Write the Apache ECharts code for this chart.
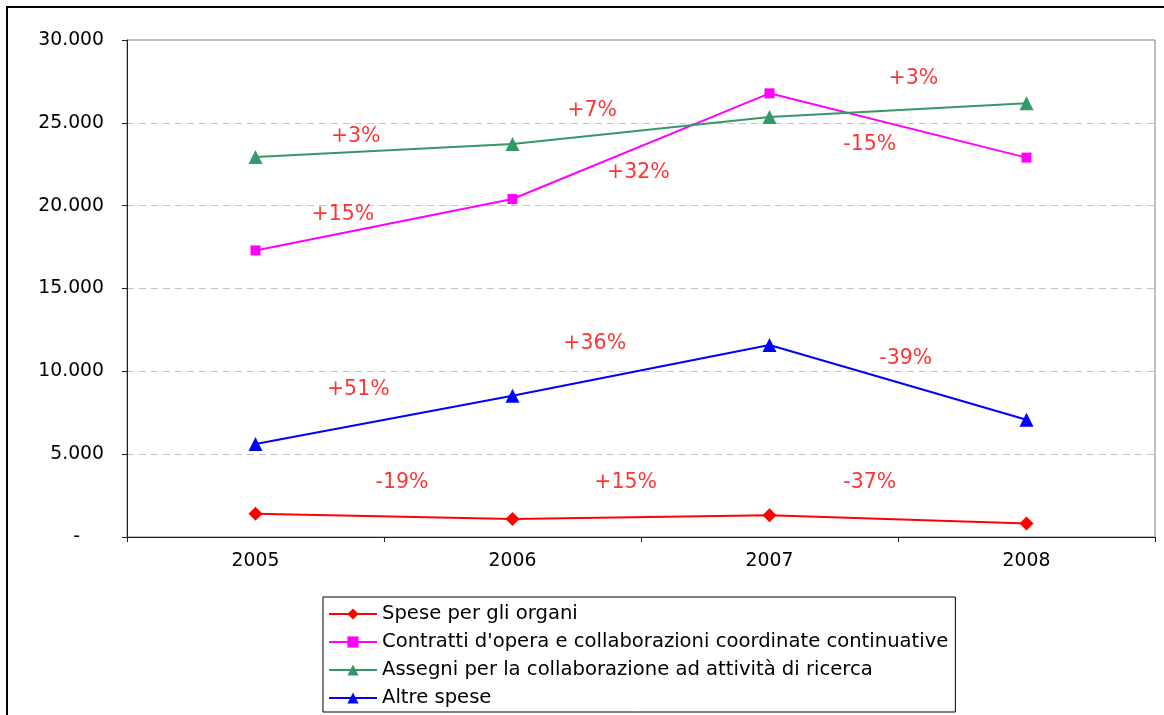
<!DOCTYPE html>
<html>
<head>
<meta charset="utf-8">
<script src="https://cdn.jsdelivr.net/npm/echarts@6/dist/echarts.min.js"></script>
<style>
  html, body { margin: 0; padding: 0; background: #fff; }
  #chart { width: 1164px; height: 715px; }
</style>
</head>
<body>
<div id="chart"></div>
<script>
// Years on the category axis
const years = ['2005', '2006', '2007', '2008'];

// Series values (euro, thousands)
const speseOrgani = [1410, 1090, 1320, 820];
const contratti = [17300, 20400, 26780, 22900];
const assegni = [22940, 23720, 25350, 26180];
const altreSpese = [5610, 8530, 11590, 7080];

// Series names
const seriesNames = [
  'Spese per gli organi',
  "Contratti d'opera e collaborazioni coordinate continuative",
  'Assegni per la collaborazione ad attività di ricerca',
  'Altre spese'
];

// Y axis ticks
const yMin = 0, yMax = 30000, yStep = 5000;

// Year-on-year change labels: [position between years, value level, text]
const changeLabels = [
  [0.39, 24150, '+3%'],
  [0.34, 19450, '+15%'],
  [0.40, 8890, '+51%'],
  [0.57, 3260, '-19%'],
  [1.31, 25750, '+7%'],
  [1.49, 21980, '+32%'],
  [1.32, 11650, '+36%'],
  [1.44, 3260, '+15%'],
  [2.56, 27640, '+3%'],
  [2.39, 23660, '-15%'],
  [2.53, 10740, '-39%'],
  [2.39, 3260, '-37%']
];

const FONT = 'DejaVu Sans, Verdana, sans-serif';

function fmtThousands(v) {
  if (v === 0) return '-    ';
  return String(v).replace(/\B(?=(\d{3})+(?!\d))/g, '.');
}

function lineSeries(name, data, color, symbol, size) {
  return {
    name: name,
    type: 'line',
    data: data,
    symbol: symbol,
    symbolSize: size,
    showAllSymbol: true,
    lineStyle: { color: color, width: 2 },
    itemStyle: { color: color },
    emphasis: { disabled: true },
    animation: false,
    z: 3
  };
}

const chart = echarts.init(document.getElementById('chart'), null, { renderer: 'canvas' });

chart.setOption({
  animation: false,
  backgroundColor: '#fff',
  graphic: [{
    type: 'rect',
    shape: { x: 7, y: 7, width: 1170, height: 720 },
    style: { fill: null, stroke: '#000', lineWidth: 2 },
    silent: true,
    z: 0
  }],
  grid: {
    left: 127, right: 9, top: 40, bottom: 178,
    show: true, borderColor: '#808080', borderWidth: 1,
    backgroundColor: 'transparent'
  },
  legend: {
    orient: 'vertical',
    left: 323, top: 597,
    data: seriesNames,
    itemWidth: 48, itemHeight: 14, itemGap: 8,
    padding: [7, 7, 4, 5],
    borderColor: '#000', borderWidth: 1,
    backgroundColor: '#fff',
    selectedMode: false,
    textStyle: { fontFamily: FONT, fontSize: 19.6, lineHeight: 20, color: '#000' }
  },
  xAxis: [{
    type: 'category',
    data: years,
    boundaryGap: true,
    axisLine: { lineStyle: { color: '#222', width: 1 } },
    axisTick: { show: true, length: 5, interval: 0, lineStyle: { color: '#222' } },
    axisLabel: { fontFamily: FONT, fontSize: 18.8, color: '#000', margin: 15 },
    splitLine: { show: false }
  }, {
    type: 'value',
    min: -0.5, max: 3.5,
    show: false
  }],
  yAxis: {
    type: 'value',
    min: yMin, max: yMax, interval: yStep,
    axisLine: { show: true, onZero: false, lineStyle: { color: '#222', width: 1 } },
    axisTick: { show: true, length: 5, lineStyle: { color: '#222' } },
    axisLabel: { fontFamily: FONT, fontSize: 18.8, color: '#000', margin: 23, formatter: fmtThousands },
    splitLine: { show: true, showMinLine: false, showMaxLine: false, lineStyle: { color: '#c4c4c4', type: [7, 5], width: 1 } }
  },
  series: [
    lineSeries(seriesNames[0], speseOrgani, '#ff0000', 'diamond', 14),
    lineSeries(seriesNames[1], contratti, '#ff00ff', 'rect', 10),
    lineSeries(seriesNames[2], assegni, '#339966', 'triangle', 14),
    lineSeries(seriesNames[3], altreSpese, '#0000ff', 'triangle', 14),
    {
      type: 'scatter',
      xAxisIndex: 1,
      data: changeLabels,
      symbolSize: 0,
      silent: true,
      label: {
        show: true,
        position: 'inside',
        formatter: function (p) { return p.value[2]; },
        fontFamily: FONT,
        fontSize: 20.5,
        color: '#ff0000'
      },
      z: 4
    }
  ]
});
</script>
</body>
</html>
